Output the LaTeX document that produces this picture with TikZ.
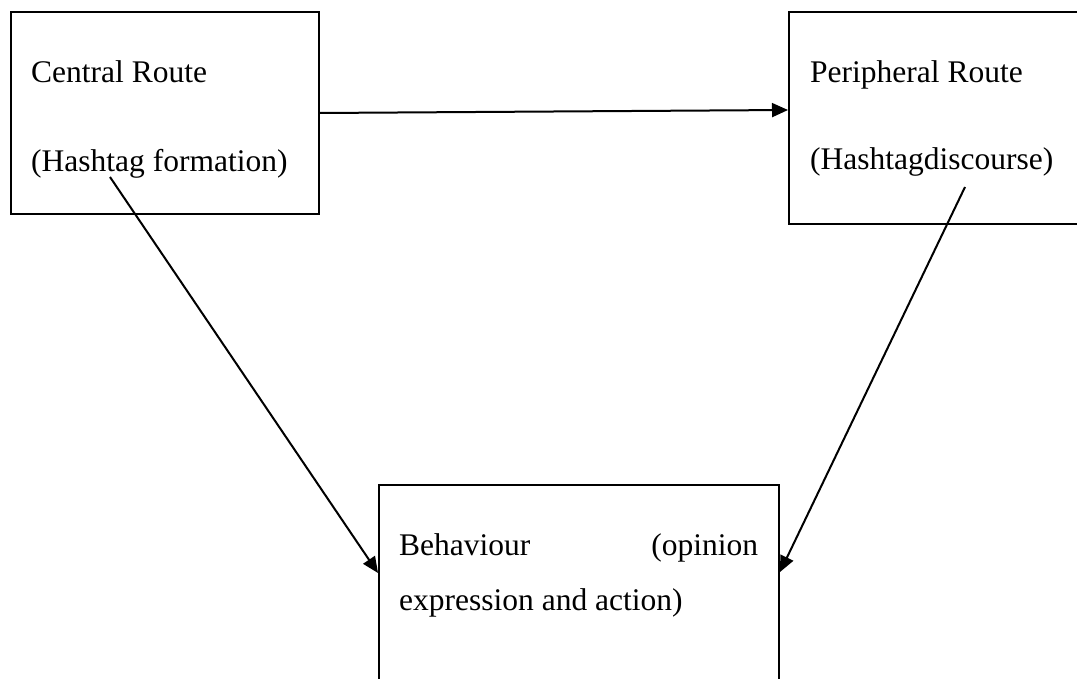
\documentclass[tikz,border=0pt]{standalone}
\usepackage{fontspec}
\setmainfont{Liberation Serif}
\usetikzlibrary{positioning, calc, arrows.meta}
\tikzset{
    routebox/.style={rectangle, draw=black, line width=2pt, anchor=north west, inner sep=0pt},
    boxtext/.style={anchor=base west, inner sep=0pt, font=\fontsize{31.5}{36}\selectfont},
    arrow/.style={-{Triangle[length=16pt, width=14pt]}, line width=2pt},
}

\begin{document}
\begin{tikzpicture}[x=1pt, y=-1pt]
    \clip (0,0) rectangle (1077,679);
    % boxes
    \node[routebox, minimum width=308pt, minimum height=202pt] (central) at (10,11) {};
    \node[routebox, minimum width=300pt, minimum height=212pt] (peripheral) at (788,11) {};
    \node[routebox, minimum width=400pt, minimum height=230pt] (behaviour) at (378,484) {};
    % texts
    \node[boxtext] (centraltitle) at ($(central.north west)+(21,72)$) {Central Route};
    \node[boxtext] (centralsub) at ($(central.north west)+(21,161)$) {(Hashtag formation)};
    \node[boxtext] (peripheraltitle) at ($(peripheral.north west)+(22,72)$) {Peripheral Route};
    \node[boxtext] (peripheralsub) at ($(peripheral.north west)+(22,159)$) {(Hashtagdiscourse)};
    \node[boxtext] (behaviourtop) at ($(behaviour.north west)+(21,71)$) {\makebox[359pt][s]{Behaviour (opinion}};
    \node[boxtext] (behaviourbot) at ($(behaviour.north west)+(21,126)$) {expression and action)};
    % connectors
    \draw[arrow] (central.east) -- ($(peripheral.north west)+(0,99)$);
    \draw[arrow] ($(central.north west)+(100,166)$) -- ($(behaviour.north west)+(0,89)$);
    \draw[arrow] ($(peripheral.north west)+(177,176)$) -- ($(behaviour.north east)+(0,88)$);
\end{tikzpicture}
\end{document}
